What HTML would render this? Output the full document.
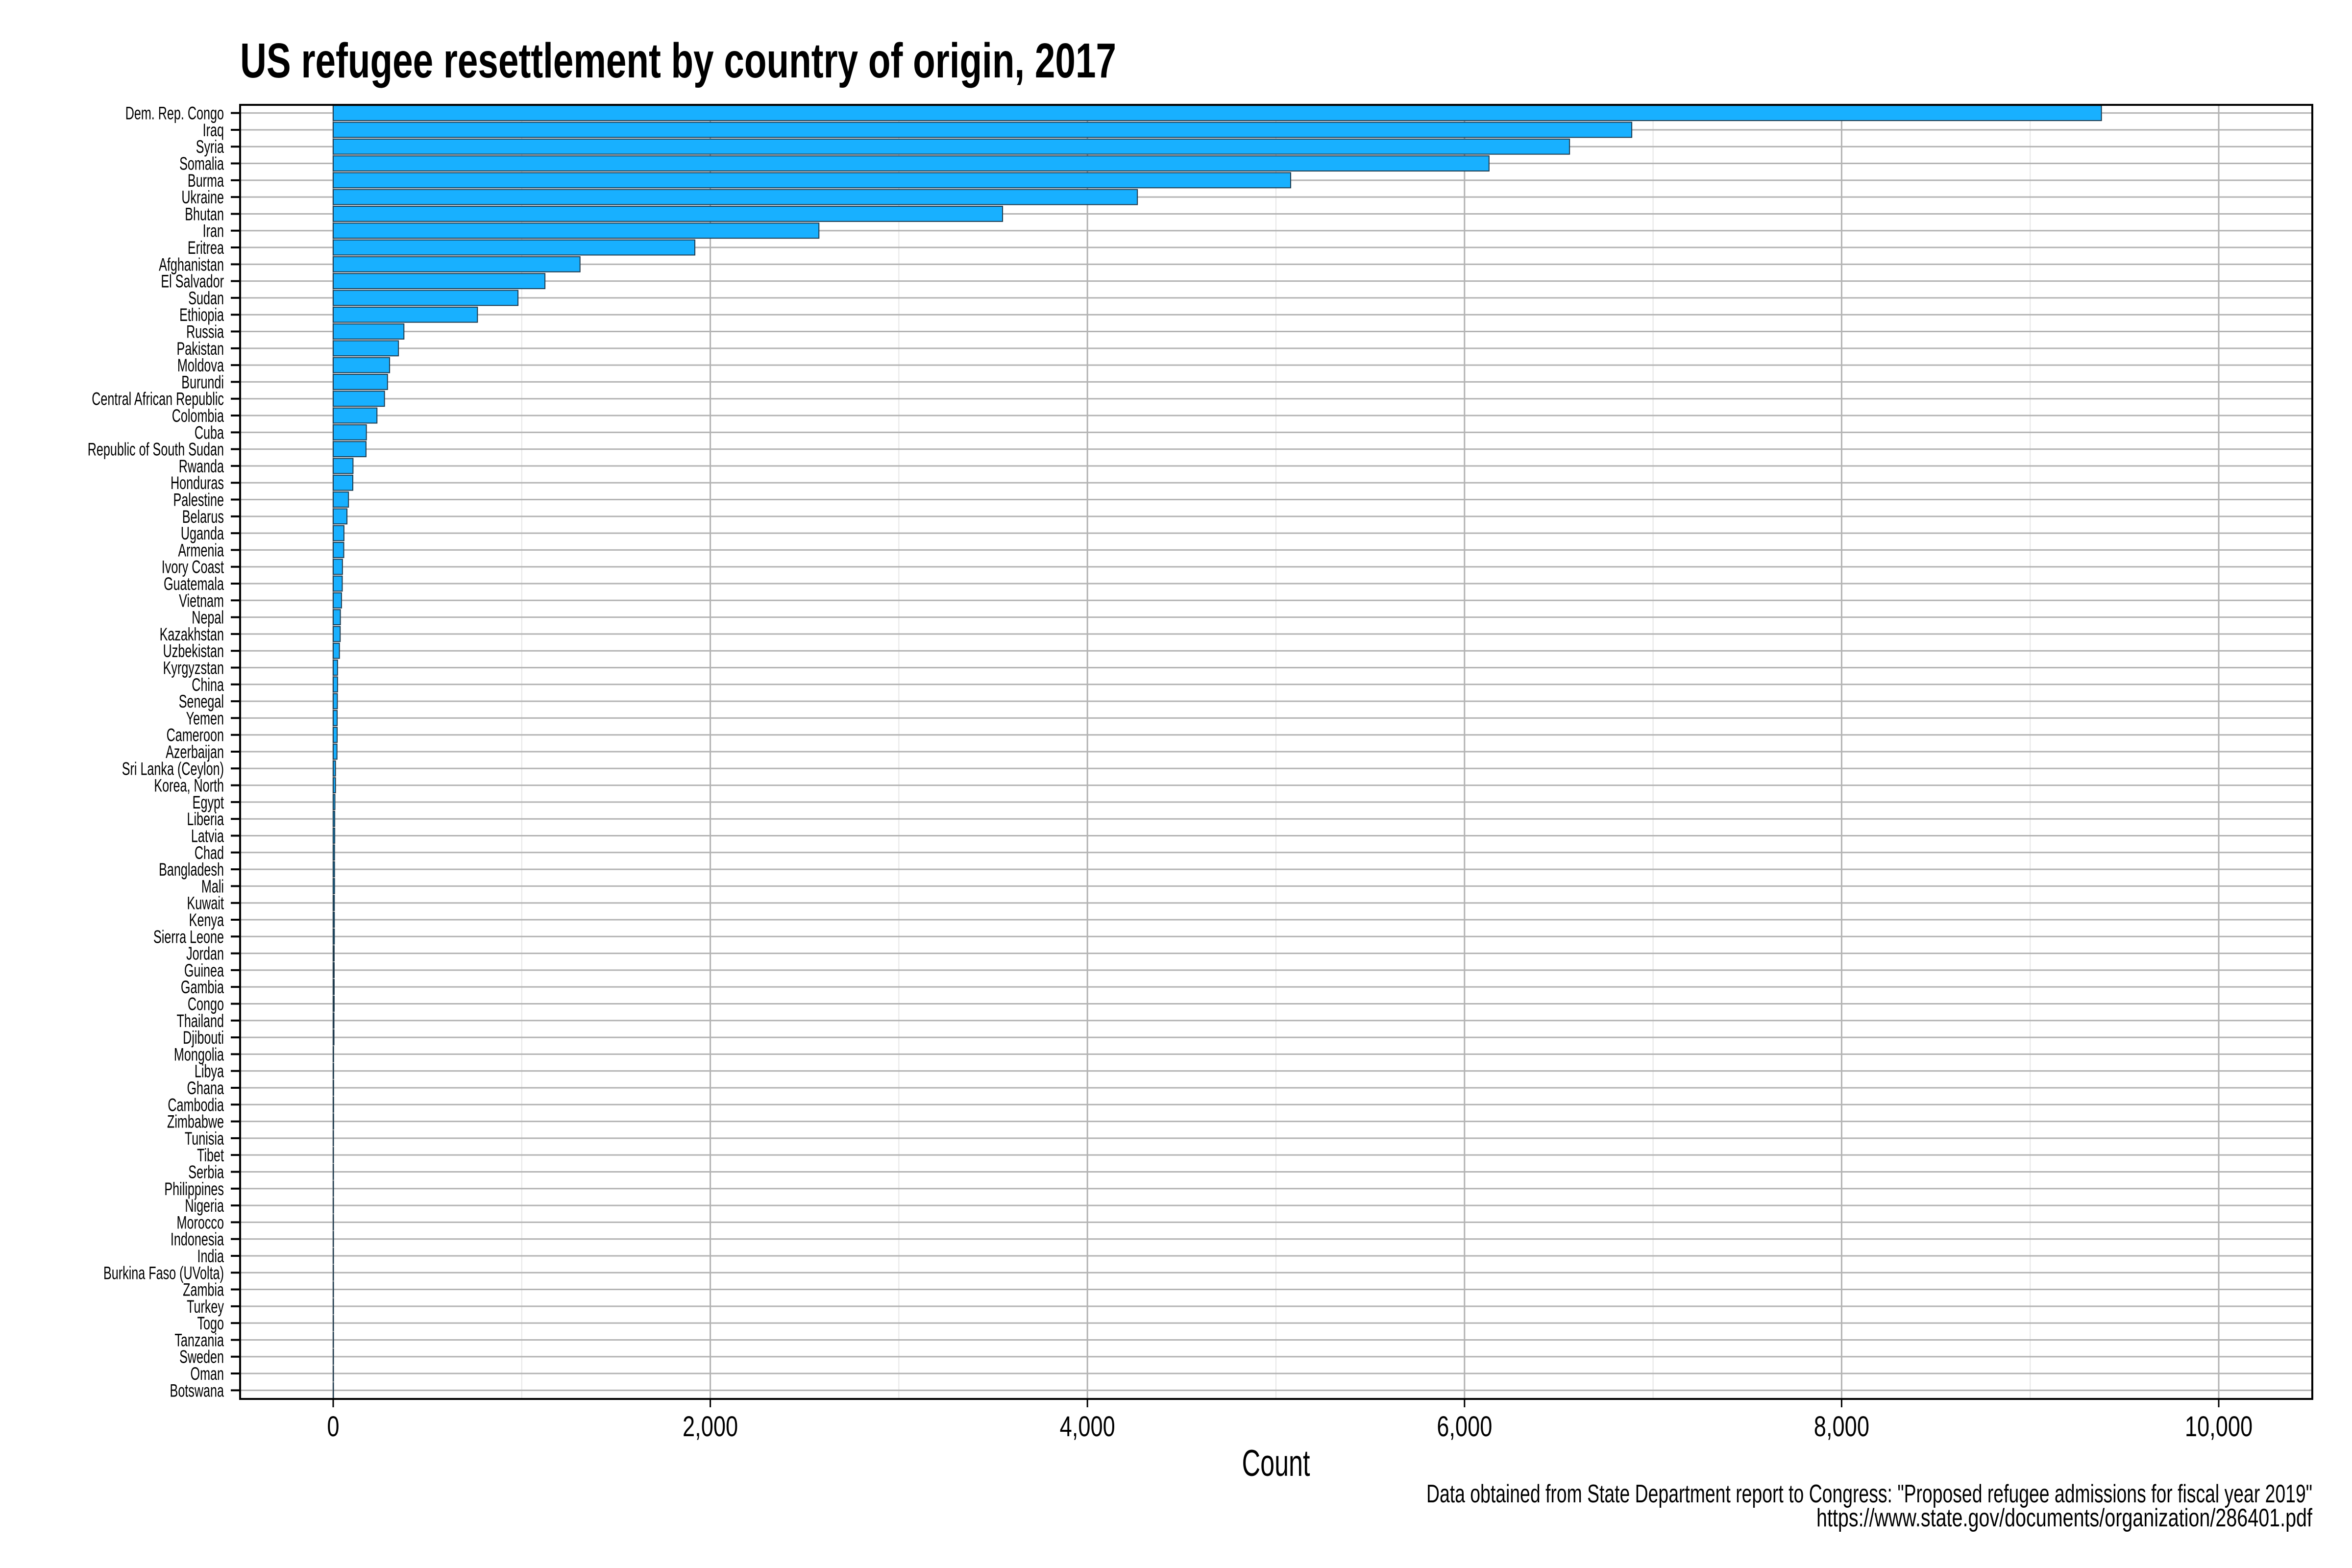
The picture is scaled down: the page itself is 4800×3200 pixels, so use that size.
<!DOCTYPE html>
<html><head><meta charset="utf-8"><style>html,body{margin:0;padding:0;background:#fff}svg{display:block}</style></head>
<body>
<svg id="chart" xmlns="http://www.w3.org/2000/svg" width="4800" height="3200" viewBox="0 0 4800 3200">
<rect x="0" y="0" width="4800" height="3200" fill="#fff"/>
<text x="490" y="158" font-family="Liberation Sans, sans-serif" font-weight="bold" font-size="100" textLength="1788" lengthAdjust="spacingAndGlyphs">US refugee resettlement by country of origin, 2017</text>
<g id="grid"></g><g id="bars"></g><g id="yaxis"></g><g id="xaxis"></g>
<rect x="490" y="214" width="4229" height="2641" fill="none" stroke="#000" stroke-width="4"/>
<text x="2604" y="3012" text-anchor="middle" font-family="Liberation Sans, sans-serif" font-size="76" textLength="139" lengthAdjust="spacingAndGlyphs">Count</text>
<text x="4719" y="3066" text-anchor="end" font-family="Liberation Sans, sans-serif" font-size="52" textLength="1808" lengthAdjust="spacingAndGlyphs">Data obtained from State Department report to Congress: "Proposed refugee admissions for fiscal year 2019"</text>
<text x="4719" y="3115" text-anchor="end" font-family="Liberation Sans, sans-serif" font-size="52" textLength="1012" lengthAdjust="spacingAndGlyphs">https://www.state.gov/documents/organization/286401.pdf</text>
</svg>
<script>
const countries = ["Dem. Rep. Congo","Iraq","Syria","Somalia","Burma","Ukraine","Bhutan","Iran","Eritrea","Afghanistan","El Salvador","Sudan","Ethiopia","Russia","Pakistan","Moldova","Burundi","Central African Republic","Colombia","Cuba","Republic of South Sudan","Rwanda","Honduras","Palestine","Belarus","Uganda","Armenia","Ivory Coast","Guatemala","Vietnam","Nepal","Kazakhstan","Uzbekistan","Kyrgyzstan","China","Senegal","Yemen","Cameroon","Azerbaijan","Sri Lanka (Ceylon)","Korea, North","Egypt","Liberia","Latvia","Chad","Bangladesh","Mali","Kuwait","Kenya","Sierra Leone","Jordan","Guinea","Gambia","Congo","Thailand","Djibouti","Mongolia","Libya","Ghana","Cambodia","Zimbabwe","Tunisia","Tibet","Serbia","Philippines","Nigeria","Morocco","Indonesia","India","Burkina Faso (UVolta)","Zambia","Turkey","Togo","Tanzania","Sweden","Oman","Botswana"];
const counts = [9378,6887,6557,6130,5078,4265,3550,2576,1918,1309,1123,980,765,375,346,299,288,272,232,176,174,105,104,81,73,57,56,49,48,44,38,37,33,23,23,22,21,21,20,12,12,9,8,8,7,7,7,6,6,6,5,5,5,5,4,4,2,2,2,2,2,1,1,1,1,1,1,1,1,1,1,1,1,1,1,1,1];
const majorTicks = [0,2000,4000,6000,8000,10000];
const tickLabels = ["0","2,000","4,000","6,000","8,000","10,000"];
const minorTicks = [1000,3000,5000,7000,9000];

const NS="http://www.w3.org/2000/svg";
const PL=490, PR=4719, PT=214, PB=2855;
function xs(v){ return 680 + v*(4528-680)/10000; }
const band=(PB-PT)/countries.length;
function yc(i){ return PT + band*(i+0.5) - 0.5; }
function mk(tag,attrs,parent){const e=document.createElementNS(NS,tag);for(const k in attrs)e.setAttribute(k,attrs[k]);parent.appendChild(e);return e;}
const grid=document.getElementById('grid'), bars=document.getElementById('bars'), ya=document.getElementById('yaxis'), xa=document.getElementById('xaxis');
minorTicks.forEach(t=>{
  const l=mk('line',{x1:xs(t),x2:xs(t),y1:PT,y2:PB,stroke:'#e6e6e6','stroke-width':2},grid);
  
  
});
majorTicks.forEach(t=>{
  const l=mk('line',{x1:xs(t),x2:xs(t),y1:PT,y2:PB,stroke:'#b3b3b3','stroke-width':3},grid);
  
  
});
countries.forEach((c,i)=>{
  const y=yc(i);
  const g=mk('line',{x1:PL,x2:PR,y1:y,y2:y,stroke:'#b3b3b3','stroke-width':3},grid);
  
  
  const h=band*0.9;
  const b=mk('rect',{x:xs(0),y:y-h/2,width:Math.max(xs(counts[i])-xs(0),0.5),height:h,fill:'#18b0ff',stroke:'#1f3a4d','stroke-width':2},bars);
  
  
  const tk=mk('line',{x1:471,x2:490,y1:y,y2:y,stroke:'#000','stroke-width':4},ya);
  
  
  const t=mk('text',{x:457/0.68,y:y+13,'text-anchor':'end','font-family':'Liberation Sans, sans-serif','font-size':37,transform:'scale(0.68,1)'},ya);
  t.textContent=c;
  
  
});
majorTicks.forEach((t,i)=>{
  const x=xs(t);
  const tk=mk('line',{x1:x,x2:x,y1:PB,y2:PB+17,stroke:'#000','stroke-width':3},xa);
  
  
  const tx=mk('text',{x:x/0.78,y:2931,'text-anchor':'middle','font-family':'Liberation Sans, sans-serif','font-size':58,transform:'scale(0.78,1)'},xa);
  tx.textContent=tickLabels[i];
  
  
});
</script>
</body></html>
